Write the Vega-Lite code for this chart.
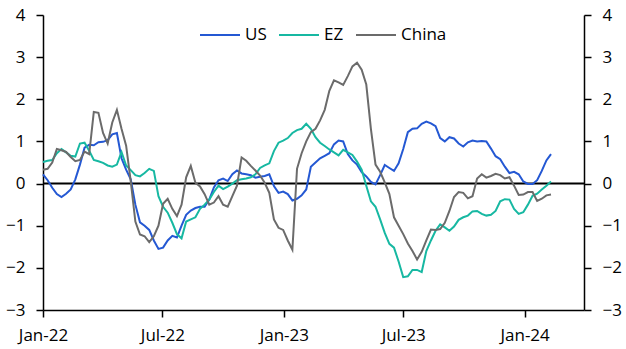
{
  "$schema": "https://vega.github.io/schema/vega-lite/v6.json",
  "width": 541,
  "height": 295,
  "autosize": "none",
  "padding": {"left": 43, "top": 15, "right": 42, "bottom": 39},
  "background": "white",
  "config": {
    "view": {"stroke": null},
    "font": "Open Sans",
    "axis": {
      "domainColor": "black", "domainWidth": 1.5, "tickColor": "black", "tickWidth": 1.5,
      "tickSize": 7, "labelColor": "black", "labelFontSize": 17, "labelFont": "Open Sans",
      "grid": false, "title": null
    },
    "legend": {"labelFontSize": 17, "labelFont": "Open Sans", "labelColor": "black"}
  },
  "datasets": {
    "weekly": [
      {"d":"2022-01-01","US":0.22,"EZ":0.51,"China":0.33},
      {"d":"2022-01-08","US":0.08,"EZ":0.54,"China":0.35},
      {"d":"2022-01-15","US":-0.1,"EZ":0.56,"China":0.5},
      {"d":"2022-01-22","US":-0.25,"EZ":0.72,"China":0.82},
      {"d":"2022-01-29","US":-0.32,"EZ":0.82,"China":0.79},
      {"d":"2022-02-05","US":-0.24,"EZ":0.74,"China":0.75},
      {"d":"2022-02-12","US":-0.14,"EZ":0.66,"China":0.63},
      {"d":"2022-02-19","US":0.1,"EZ":0.64,"China":0.53},
      {"d":"2022-02-26","US":0.45,"EZ":0.95,"China":0.56},
      {"d":"2022-03-05","US":0.85,"EZ":0.97,"China":0.76},
      {"d":"2022-03-12","US":0.92,"EZ":0.78,"China":0.7},
      {"d":"2022-03-19","US":0.91,"EZ":0.56,"China":1.7},
      {"d":"2022-03-26","US":0.98,"EZ":0.53,"China":1.68},
      {"d":"2022-04-02","US":0.99,"EZ":0.49,"China":1.2},
      {"d":"2022-04-09","US":1.03,"EZ":0.43,"China":0.95},
      {"d":"2022-04-16","US":1.17,"EZ":0.4,"China":1.45},
      {"d":"2022-04-23","US":1.2,"EZ":0.45,"China":1.75},
      {"d":"2022-04-30","US":0.6,"EZ":0.75,"China":1.3},
      {"d":"2022-05-07","US":0.33,"EZ":0.43,"China":0.9},
      {"d":"2022-05-14","US":0.1,"EZ":0.32,"China":0.05},
      {"d":"2022-05-21","US":-0.5,"EZ":0.2,"China":-0.9},
      {"d":"2022-05-28","US":-0.92,"EZ":0.17,"China":-1.21},
      {"d":"2022-06-04","US":-1.0,"EZ":0.25,"China":-1.25},
      {"d":"2022-06-11","US":-1.1,"EZ":0.35,"China":-1.39},
      {"d":"2022-06-18","US":-1.35,"EZ":0.3,"China":-1.25},
      {"d":"2022-06-25","US":-1.55,"EZ":-0.3,"China":-1.0},
      {"d":"2022-07-02","US":-1.52,"EZ":-0.55,"China":-0.48},
      {"d":"2022-07-09","US":-1.35,"EZ":-0.69,"China":-0.36},
      {"d":"2022-07-16","US":-1.24,"EZ":-0.93,"China":-0.6},
      {"d":"2022-07-23","US":-1.28,"EZ":-1.2,"China":-0.77},
      {"d":"2022-07-30","US":-1.0,"EZ":-1.3,"China":-0.5},
      {"d":"2022-08-06","US":-0.74,"EZ":-0.9,"China":0.15},
      {"d":"2022-08-13","US":-0.64,"EZ":-0.85,"China":0.42},
      {"d":"2022-08-20","US":-0.58,"EZ":-0.8,"China":0.02},
      {"d":"2022-08-27","US":-0.55,"EZ":-0.6,"China":-0.07},
      {"d":"2022-09-03","US":-0.55,"EZ":-0.5,"China":-0.25},
      {"d":"2022-09-10","US":-0.38,"EZ":-0.38,"China":-0.5},
      {"d":"2022-09-17","US":-0.09,"EZ":-0.2,"China":-0.45},
      {"d":"2022-09-24","US":0.08,"EZ":-0.05,"China":-0.3},
      {"d":"2022-10-01","US":0.12,"EZ":-0.13,"China":-0.5},
      {"d":"2022-10-08","US":0.06,"EZ":-0.07,"China":-0.55},
      {"d":"2022-10-15","US":0.22,"EZ":0.0,"China":-0.3},
      {"d":"2022-10-22","US":0.31,"EZ":0.08,"China":-0.05},
      {"d":"2022-10-29","US":0.24,"EZ":0.1,"China":0.62},
      {"d":"2022-11-05","US":0.22,"EZ":0.12,"China":0.54},
      {"d":"2022-11-12","US":0.2,"EZ":0.15,"China":0.42},
      {"d":"2022-11-19","US":0.14,"EZ":0.22,"China":0.31},
      {"d":"2022-11-26","US":0.16,"EZ":0.37,"China":0.19},
      {"d":"2022-12-03","US":0.18,"EZ":0.43,"China":0.02},
      {"d":"2022-12-10","US":0.22,"EZ":0.48,"China":-0.22},
      {"d":"2022-12-17","US":-0.06,"EZ":0.77,"China":-0.85},
      {"d":"2022-12-24","US":-0.22,"EZ":0.97,"China":-1.05},
      {"d":"2022-12-31","US":-0.19,"EZ":1.02,"China":-1.1},
      {"d":"2023-01-07","US":-0.25,"EZ":1.08,"China":-1.35},
      {"d":"2023-01-14","US":-0.4,"EZ":1.2,"China":-1.57},
      {"d":"2023-01-21","US":-0.36,"EZ":1.27,"China":0.35},
      {"d":"2023-01-28","US":-0.28,"EZ":1.3,"China":0.72},
      {"d":"2023-02-04","US":-0.14,"EZ":1.42,"China":1.0},
      {"d":"2023-02-11","US":0.4,"EZ":1.3,"China":1.22},
      {"d":"2023-02-18","US":0.5,"EZ":1.1,"China":1.3},
      {"d":"2023-02-25","US":0.6,"EZ":0.97,"China":1.5},
      {"d":"2023-03-04","US":0.66,"EZ":0.89,"China":1.75},
      {"d":"2023-03-11","US":0.72,"EZ":0.81,"China":2.2},
      {"d":"2023-03-18","US":0.93,"EZ":0.74,"China":2.45},
      {"d":"2023-03-25","US":1.02,"EZ":0.67,"China":2.4},
      {"d":"2023-04-01","US":1.0,"EZ":0.8,"China":2.34},
      {"d":"2023-04-08","US":0.7,"EZ":0.74,"China":2.55},
      {"d":"2023-04-15","US":0.55,"EZ":0.68,"China":2.78},
      {"d":"2023-04-22","US":0.45,"EZ":0.52,"China":2.87},
      {"d":"2023-04-29","US":0.27,"EZ":0.33,"China":2.7},
      {"d":"2023-05-06","US":0.17,"EZ":-0.05,"China":2.35},
      {"d":"2023-05-13","US":0.04,"EZ":-0.42,"China":1.3},
      {"d":"2023-05-20","US":-0.02,"EZ":-0.55,"China":0.45},
      {"d":"2023-05-27","US":0.2,"EZ":-0.85,"China":0.28},
      {"d":"2023-06-03","US":0.44,"EZ":-1.17,"China":0.03},
      {"d":"2023-06-10","US":0.37,"EZ":-1.43,"China":-0.25},
      {"d":"2023-06-17","US":0.3,"EZ":-1.52,"China":-0.8},
      {"d":"2023-06-24","US":0.48,"EZ":-1.85,"China":-1.0},
      {"d":"2023-07-01","US":0.82,"EZ":-2.22,"China":-1.2},
      {"d":"2023-07-08","US":1.22,"EZ":-2.2,"China":-1.42},
      {"d":"2023-07-15","US":1.3,"EZ":-2.05,"China":-1.6},
      {"d":"2023-07-22","US":1.31,"EZ":-2.05,"China":-1.8},
      {"d":"2023-07-29","US":1.42,"EZ":-2.1,"China":-1.62},
      {"d":"2023-08-05","US":1.47,"EZ":-1.6,"China":-1.35},
      {"d":"2023-08-12","US":1.43,"EZ":-1.35,"China":-1.09},
      {"d":"2023-08-19","US":1.36,"EZ":-1.12,"China":-1.1},
      {"d":"2023-08-26","US":1.08,"EZ":-0.97,"China":-1.08},
      {"d":"2023-09-02","US":1.0,"EZ":-1.04,"China":-0.93},
      {"d":"2023-09-09","US":1.1,"EZ":-1.12,"China":-0.65},
      {"d":"2023-09-16","US":1.07,"EZ":-1.02,"China":-0.32},
      {"d":"2023-09-23","US":0.95,"EZ":-0.86,"China":-0.2},
      {"d":"2023-09-30","US":0.88,"EZ":-0.8,"China":-0.22},
      {"d":"2023-10-07","US":0.98,"EZ":-0.76,"China":-0.35},
      {"d":"2023-10-14","US":1.02,"EZ":-0.66,"China":-0.3},
      {"d":"2023-10-21","US":1.0,"EZ":-0.65,"China":0.12},
      {"d":"2023-10-28","US":1.01,"EZ":-0.72,"China":0.22},
      {"d":"2023-11-04","US":1.0,"EZ":-0.76,"China":0.14},
      {"d":"2023-11-11","US":0.83,"EZ":-0.74,"China":0.18},
      {"d":"2023-11-18","US":0.65,"EZ":-0.65,"China":0.23},
      {"d":"2023-11-25","US":0.58,"EZ":-0.42,"China":0.2},
      {"d":"2023-12-02","US":0.4,"EZ":-0.37,"China":0.12},
      {"d":"2023-12-09","US":0.25,"EZ":-0.38,"China":0.15},
      {"d":"2023-12-16","US":0.28,"EZ":-0.6,"China":-0.05},
      {"d":"2023-12-23","US":0.22,"EZ":-0.72,"China":-0.27},
      {"d":"2023-12-30","US":0.05,"EZ":-0.68,"China":-0.26},
      {"d":"2024-01-06","US":-0.01,"EZ":-0.5,"China":-0.2},
      {"d":"2024-01-13","US":-0.01,"EZ":-0.29,"China":-0.2},
      {"d":"2024-01-20","US":0.08,"EZ":-0.24,"China":-0.41},
      {"d":"2024-01-27","US":0.3,"EZ":-0.14,"China":-0.36},
      {"d":"2024-02-03","US":0.55,"EZ":-0.05,"China":-0.28},
      {"d":"2024-02-10","US":0.7,"EZ":0.05,"China":-0.26}
    ],
    "zero": [{"z": 0}]
  },
  "resolve": {"scale": {"y": "shared"}, "axis": {"y": "independent"}},
  "layer": [
    {
      "data": {"name": "zero"},
      "mark": {"type": "rule", "color": "black", "strokeWidth": 2},
      "encoding": {
        "y": {
          "field": "z", "type": "quantitative",
          "scale": {"domain": [-3, 4], "nice": false, "zero": false},
          "axis": {"orient": "right", "values": [-3, -2, -1, 0, 1, 2, 3, 4], "labelPadding": 11}
        }
      }
    },
    {
      "data": {"name": "weekly"},
      "transform": [{"fold": ["US", "EZ", "China"], "as": ["series", "value"]}],
      "mark": {"type": "line", "strokeWidth": 2, "interpolate": "linear"},
      "encoding": {
        "x": {
          "field": "d", "type": "temporal",
          "scale": {"type": "utc", "domain": [{"year": 2022, "month": 1, "date": 1, "utc": true}, {"year": 2024, "month": 3, "date": 31, "utc": true}]},
          "axis": {
            "values": [
              {"year": 2022, "month": 1, "date": 1, "utc": true},
              {"year": 2022, "month": 7, "date": 1, "utc": true},
              {"year": 2023, "month": 1, "date": 1, "utc": true},
              {"year": 2023, "month": 7, "date": 1, "utc": true},
              {"year": 2024, "month": 1, "date": 1, "utc": true}
            ],
            "labelExpr": "utcFormat(datum.value, '%b-%y')", "labelPadding": 10, "labelFlush": false
          }
        },
        "y": {
          "field": "value", "type": "quantitative",
          "scale": {"domain": [-3, 4], "nice": false, "zero": false},
          "axis": {"orient": "left", "values": [-3, -2, -1, 0, 1, 2, 3, 4], "labelPadding": 11}
        },
        "color": {
          "field": "series", "type": "nominal",
          "scale": {"domain": ["US", "EZ", "China"], "range": ["#2458d3", "#17b8a2", "#6b6b6b"]},
          "legend": {
            "title": null, "orient": "none", "direction": "horizontal",
            "legendX": 156, "legendY": -1,
            "symbolType": "stroke", "symbolSize": 1600, "symbolStrokeWidth": 2,
            "labelOffset": 4, "columnPadding": 8
          }
        }
      }
    }
  ]
}
